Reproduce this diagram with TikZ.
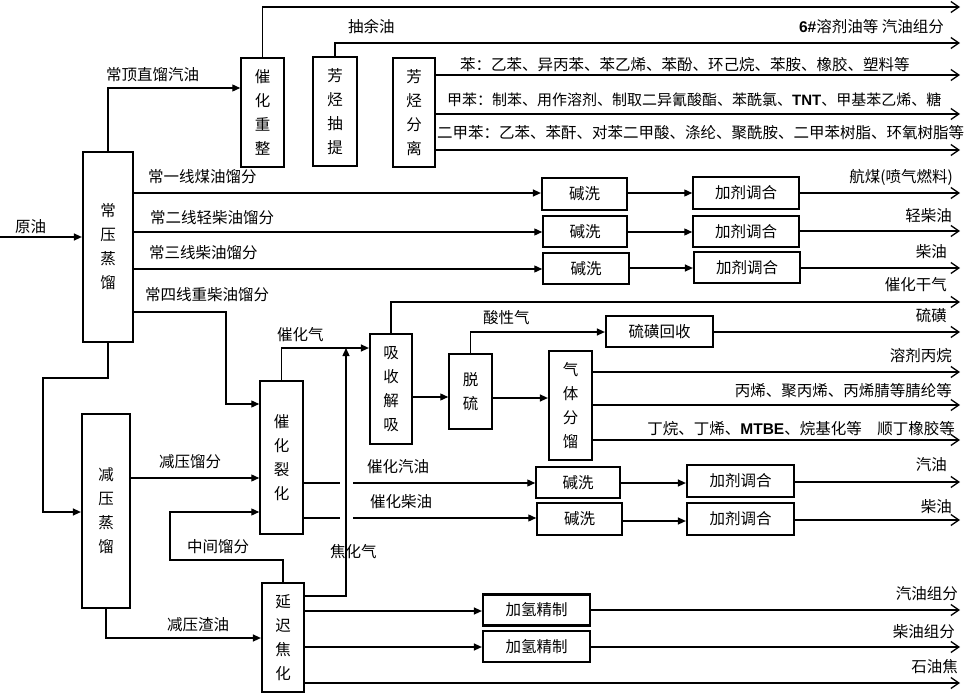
\documentclass[tikz,border=0pt]{standalone}
\usepackage{fontspec}
\setmainfont{Noto Sans CJK SC}
\newfontfamily\latb{Liberation Sans}
\usetikzlibrary{arrows.meta}
\newcommand{\myfz}{\fontsize{15.5bp}{24bp}\selectfont}
\newcommand{\myb}[1]{{\latb\bfseries #1}}
\begin{document}
\begin{tikzpicture}[x=1bp,y=-1bp,
  box/.style={draw, line width=1.5bp, inner sep=0pt, align=center, font=\myfz},
  tbox/.style={box, line width=2.2bp},
  ln/.style={line width=1.3bp},
  arr/.style={ln, -{Triangle[length=8bp,width=7bp]}},
  outa/.style={ln, -{Straight Barb[length=8bp,width=11bp,line width=1.3bp]}},
  lab/.style={inner sep=0pt, font=\myfz}]
\fill[white] (0,0) rectangle (968,694);
\useasboundingbox (0,0) rectangle (968,694);

% boxes
\node[tbox, minimum width=50bp, minimum height=190bp] (cy) at (108,247) {常\\压\\蒸\\馏};
\node[tbox, minimum width=48bp, minimum height=194bp] (jy) at (106,511) {减\\压\\蒸\\馏};
\node[box, minimum width=43bp, minimum height=109bp] (czz) at (262.5,112.5) {催\\化\\重\\整};
\node[box, minimum width=44bp, minimum height=109bp] (fct) at (335,111.5) {芳\\烃\\抽\\提};
\node[box, minimum width=42bp, minimum height=109bp] (ffl) at (414,112.5) {芳\\烃\\分\\离};
\node[tbox, minimum width=85bp, minimum height=32bp] (jx1) at (584.5,194) {碱洗};
\node[box, minimum width=106bp, minimum height=32bp] (jt1) at (746,193) {加剂调合};
\node[box, minimum width=84bp, minimum height=31bp] (jx2) at (585,231.5) {碱洗};
\node[box, minimum width=106bp, minimum height=31bp] (jt2) at (746,231.5) {加剂调合};
\node[box, minimum width=86bp, minimum height=31bp] (jx3) at (586,268.5) {碱洗};
\node[tbox, minimum width=106bp, minimum height=31bp] (jt3) at (747,267.5) {加剂调合};
\node[tbox, minimum width=107bp, minimum height=31bp] (lhs) at (659.5,331.5) {硫磺回收};
\node[tbox, minimum width=42bp, minimum height=110bp] (xsjx) at (391,389) {吸\\收\\解\\吸};
\node[box, minimum width=43bp, minimum height=75bp] (tl) at (470.5,391.5) {脱\\硫};
\node[tbox, minimum width=43bp, minimum height=109bp] (qtfl) at (570.5,405.5) {气\\体\\分\\馏};
\node[box, minimum width=43bp, minimum height=153bp] (chlh) at (281.5,457.5) {催\\化\\裂\\化};
\node[box, minimum width=84bp, minimum height=31bp] (jx4) at (578,482.5) {碱洗};
\node[tbox, minimum width=107bp, minimum height=32bp] (jt4) at (740.5,481) {加剂调合};
\node[box, minimum width=85bp, minimum height=32bp] (jx5) at (579.5,519) {碱洗};
\node[tbox, minimum width=107bp, minimum height=32bp] (jt5) at (740.5,519) {加剂调合};
\node[tbox, minimum width=42bp, minimum height=109bp] (ycjh) at (283,637.5) {延\\迟\\焦\\化};
\node[tbox, minimum width=107bp, minimum height=31bp] (jq1) at (536.5,610) {加氢精制};
\node[tbox, minimum width=107bp, minimum height=31bp] (jq2) at (536.5,646.5) {加氢精制};

% free ends
\coordinate (in0) at (0,237);
\coordinate (o1) at (960,7);
\coordinate (o2) at (960,43);
\coordinate (o3) at (960,75);
\coordinate (o4) at (960,114);
\coordinate (o5) at (960,150);
\coordinate (o6) at (960,193);
\coordinate (o7) at (960,231);
\coordinate (o8) at (960,268);
\coordinate (o9) at (960,302);
\coordinate (o10) at (960,332);
\coordinate (o11) at (960,372);
\coordinate (o12) at (960,405);
\coordinate (o13) at (960,440);
\coordinate (o14) at (960,482);
\coordinate (o15) at (960,520);
\coordinate (o16) at (960,610);
\coordinate (o17) at (960,647);
\coordinate (o18) at (960,683);

% connectors
\draw[arr] (in0) -- (cy.west |- in0);
\draw[arr] (cy.north) |- (czz.west |- 0,88);
\draw[outa] (czz.north) |- (o1);
\draw[outa] (fct.north) |- (o2);
\draw[outa] (ffl.east |- o3) -- (o3);
\draw[outa] (ffl.east |- o4) -- (o4);
\draw[outa] (ffl.east |- o5) -- (o5);

\draw[arr] (cy.east |- 0,193) -- (jx1.west |- 0,193);
\draw[arr] (jx1.east |- 0,193) -- (jt1.west |- 0,193);
\draw[outa] (jt1.east |- o6) -- (o6);
\draw[arr] (cy.east |- 0,232) -- (jx2.west |- 0,232);
\draw[arr] (jx2.east |- 0,232) -- (jt2.west |- 0,232);
\draw[outa] (jt2.east |- o7) -- (o7);
\draw[arr] (cy.east |- 0,269) -- (jx3.west |- 0,269);
\draw[arr] (jx3.east |- 0,268) -- (jt3.west |- 0,268);
\draw[outa] (jt3.east |- o8) -- (o8);

\draw[arr] (cy.east |- 0,312) -| (226,404) -- (chlh.west |- 0,404);
\draw[arr] (cy.south) |- (43,378) |- (jy.west |- 0,512);
\draw[arr] (jy.east |- 0,478) -- (chlh.west |- 0,478);
\draw[arr] (ycjh.north) |- (170,560) |- (chlh.west |- 0,512);
\draw[arr] (jy.south) |- (ycjh.west |- 0,638);

\draw[arr] (chlh.north) |- (xsjx.west |- 0,348);
\draw[arr] (ycjh.east |- 0,596) -| (346,348);
\draw[outa] (xsjx.north) |- (o9);
\draw[arr] (xsjx.east |- 0,397) -- (tl.west |- 0,397);
\draw[arr] (tl.east |- 0,398) -- (qtfl.west |- 0,398);
\draw[arr] (tl.north) |- (lhs.west |- 0,332);
\draw[outa] (lhs.east |- o10) -- (o10);
\draw[outa] (qtfl.east |- o11) -- (o11);
\draw[outa] (qtfl.east |- o12) -- (o12);
\draw[outa] (qtfl.east |- o13) -- (o13);

\draw[ln] (chlh.east |- 0,483) -- (340,483);
\draw[arr] (353,483) -- (jx4.west |- 0,483);
\draw[arr] (jx4.east |- 0,483) -- (jt4.west |- 0,483);
\draw[outa] (jt4.east |- o14) -- (o14);
\draw[ln] (chlh.east |- 0,518) -- (340,518);
\draw[arr] (353,518) -- (jx5.west |- 0,518);
\draw[arr] (jx5.east |- 0,521) -- (jt5.west |- 0,521);
\draw[outa] (jt5.east |- o15) -- (o15);

\draw[arr] (ycjh.east |- 0,611) -- (jq1.west |- 0,611);
\draw[arr] (ycjh.east |- 0,647) -- (jq2.west |- 0,647);
\draw[outa] (jq1.east |- o16) -- (o16);
\draw[outa] (jq2.east |- o17) -- (o17);
\draw[outa] (ycjh.east |- o18) -- (o18);

% labels
\node[lab, anchor=west] (t1) at (15,227) {原油};
\node[lab, anchor=west] (t2) at (106,75) {常顶直馏汽油};
\node[lab, anchor=west] (t3) at (348,27) {抽余油};
\node[lab, anchor=east] (t4) at (944,27) {\myb{6\#}溶剂油等 汽油组分};
\node[lab, anchor=west] (t5) at (460,65) {苯：乙苯、异丙苯、苯乙烯、苯酚、环己烷、苯胺、橡胶、塑料等};
\node[lab, anchor=west, font=\fontsize{15bp}{24bp}\selectfont] (t6) at (447,100) {甲苯：制苯、用作溶剂、制取二异氰酸酯、苯酰氯、\myb{TNT}、甲基苯乙烯、糖};
\node[lab, anchor=west] (t7) at (437,133) {二甲苯：乙苯、苯酐、对苯二甲酸、涤纶、聚酰胺、二甲苯树脂、环氧树脂等};
\node[lab, anchor=west] (t8) at (148,177) {常一线煤油馏分};
\node[lab, anchor=west] (t9) at (150,218) {常二线轻柴油馏分};
\node[lab, anchor=west] (t10) at (149,253) {常三线柴油馏分};
\node[lab, anchor=west] (t11) at (145,295) {常四线重柴油馏分};
\node[lab, anchor=east] (t12) at (953,177) {航煤(喷气燃料)};
\node[lab, anchor=east] (t13) at (952,216) {轻柴油};
\node[lab, anchor=east] (t14) at (947,252) {柴油};
\node[lab, anchor=east] (t15) at (947,285) {催化干气};
\node[lab, anchor=west] (t16) at (483,318) {酸性气};
\node[lab, anchor=east] (t17) at (947,316) {硫磺};
\node[lab, anchor=west] (t18) at (277,335) {催化气};
\node[lab, anchor=east] (t19) at (952,356) {溶剂丙烷};
\node[lab, anchor=east] (t20) at (952,391) {丙烯、聚丙烯、丙烯腈等腈纶等};
\node[lab, anchor=east] (t21) at (955,429) {丁烷、丁烯、\myb{MTBE}、烷基化等\quad 顺丁橡胶等};
\node[lab, anchor=west] (t22) at (159,462) {减压馏分};
\node[lab, anchor=west] (t23) at (367,467) {催化汽油};
\node[lab, anchor=east] (t24) at (947,465) {汽油};
\node[lab, anchor=west] (t25) at (370,502) {催化柴油};
\node[lab, anchor=east] (t26) at (952,507) {柴油};
\node[lab, anchor=west] (t27) at (187,547) {中间馏分};
\node[lab, anchor=west] (t28) at (330,552) {焦化气};
\node[lab, anchor=west] (t29) at (167,625) {减压渣油};
\node[lab, anchor=east] (t30) at (958,594) {汽油组分};
\node[lab, anchor=east] (t31) at (955,632) {柴油组分};
\node[lab, anchor=east] (t32) at (958,667) {石油焦};
\end{tikzpicture}
\end{document}
